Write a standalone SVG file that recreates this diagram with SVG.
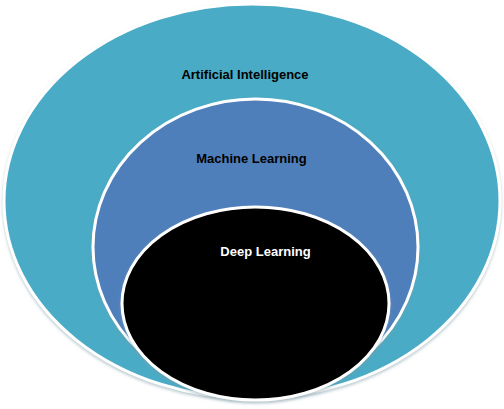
<svg xmlns="http://www.w3.org/2000/svg" width="504" height="409" viewBox="0 0 504 409">
<style>
.ring{stroke:#ffffff;stroke-width:3;filter:url(#sh)}
.lbl{font-family:"Liberation Sans",Arial,sans-serif;font-weight:bold;font-size:13px;text-anchor:middle}
</style>
<defs>
<filter id="sh" x="-10%" y="-10%" width="120%" height="125%">
<feDropShadow dx="0" dy="2" stdDeviation="1.5" flood-color="#7a9aa6" flood-opacity="0.5"/>
</filter>
</defs>
<rect width="504" height="409" fill="#ffffff"/>
<g id="ai">
<ellipse class="ring" cx="252" cy="201" rx="248" ry="197" fill="#4aabc5"/>
<text class="lbl" x="245" y="79" fill="#000000">Artificial Intelligence</text>
</g>
<g id="ml">
<ellipse class="ring" cx="255.5" cy="247" rx="162.5" ry="148" fill="#4f7fbb"/>
<text class="lbl" x="251.5" y="163" fill="#000000">Machine Learning</text>
</g>
<g id="dl">
<ellipse class="ring" cx="255.5" cy="303.5" rx="133.5" ry="96.5" fill="#000000"/>
<text class="lbl" x="265.5" y="256" fill="#ffffff">Deep Learning</text>
</g>
<g id="connectors"/>
</svg>
